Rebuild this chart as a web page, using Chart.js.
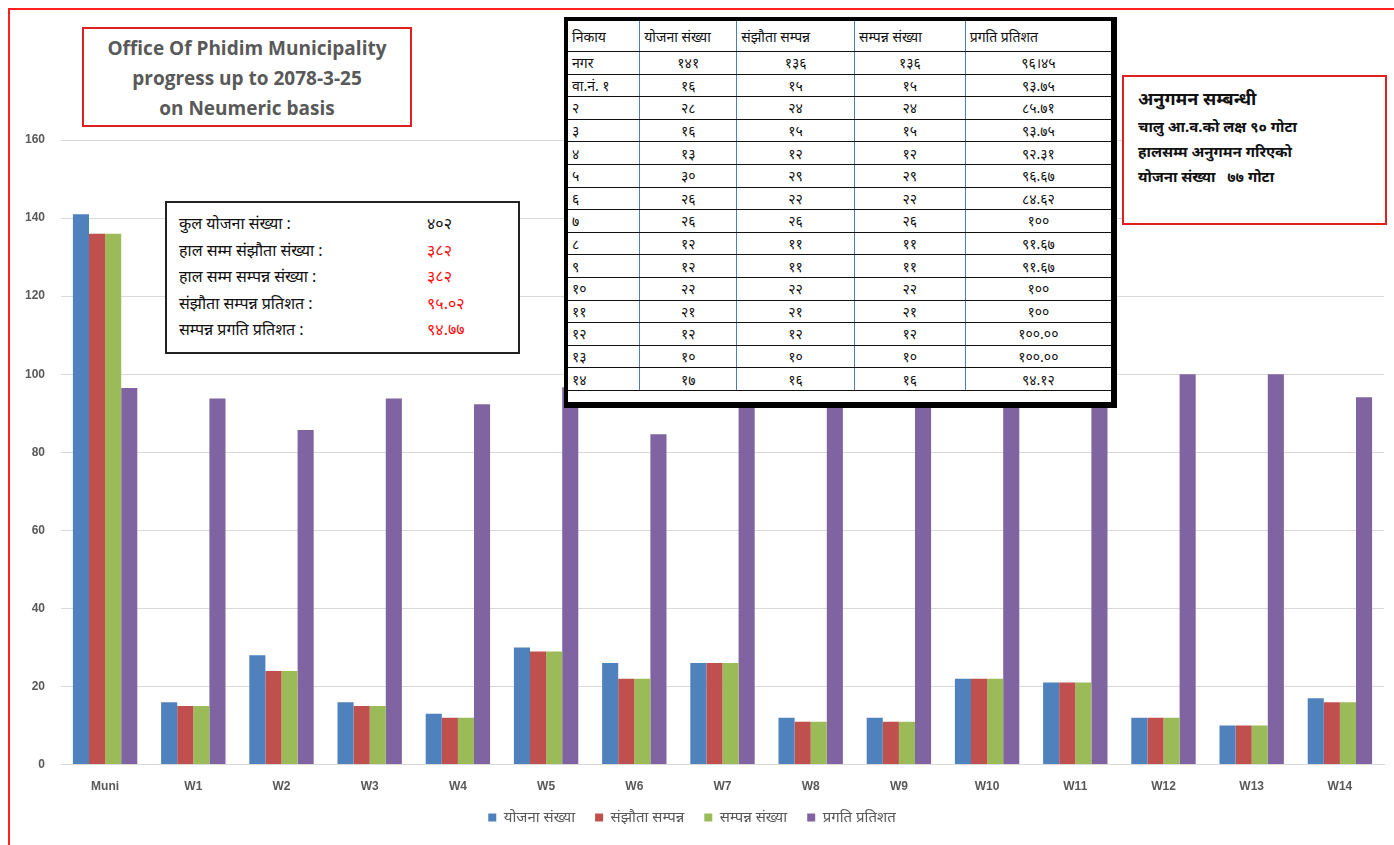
<!DOCTYPE html>
<html><head><meta charset="utf-8">
<script src="https://cdn.jsdelivr.net/npm/chart.js@4.4.1/dist/chart.umd.min.js"></script>
<style>
html,body{margin:0;padding:0;background:#fff;width:1394px;height:845px;overflow:hidden;font-family:"Noto Sans","Noto Sans Devanagari","Liberation Sans",sans-serif;}
#wrap{position:absolute;left:0;top:0;width:1394px;height:845px;}
#frame{position:absolute;left:8px;top:8px;width:1400px;height:900px;border:2px solid #ff2020;box-sizing:border-box;}
.box{position:absolute;background:#fff;box-sizing:border-box;}
#title{left:82px;top:27px;width:330px;height:100px;border:2px solid #e02020;color:#595959;font-family:"Open Sans","Liberation Sans",sans-serif;font-weight:bold;font-size:19px;line-height:30px;text-align:center;padding-top:4px;}
#left{left:165px;top:201px;width:355px;height:153px;border:2px solid #222;padding:7px 0 0 12px;font-size:16px;line-height:26.5px;color:#111;}
#left .r{display:flex;}
#left .k{width:248px;}
#left .v{color:#ff1010;}
#left .v.b{color:#111;}
#tbl{left:564px;top:17px;width:553px;height:391px;border:4px solid #000;border-right-width:6px;border-bottom-width:6px;}
#tbl table{border-collapse:collapse;width:100%;font-size:14px;color:#111;}
#tbl td{border-bottom:1.5px solid #111;height:21.6px;padding:0 4px;white-space:nowrap;}
#tbl tr:first-child td{height:30px;}
#tbl td+td{border-left:1.5px solid #4a7cc0;}
#right{left:1122px;top:75px;width:265px;height:150px;border:2px solid #e02020;padding:9px 0 0 14px;font-size:15px;line-height:25px;color:#111;font-weight:bold;}
</style></head>
<body><div id="wrap">
<canvas id="c" width="1394" height="845"></canvas>
<div id="frame"></div>
<div class="box" id="title">Office Of Phidim Municipality<br>progress up to 2078-3-25<br>on Neumeric basis</div>
<div class="box" id="left"></div>
<div class="box" id="tbl"><table id="t"></table></div>
<div class="box" id="right"></div>
</div>
<script>
const categories = ["Muni","W1","W2","W3","W4","W5","W6","W7","W8","W9","W10","W11","W12","W13","W14"];
const seriesNames = ["योजना संख्या","संझौता सम्पन्न","सम्पन्न संख्या","प्रगति प्रतिशत"];
const plans      = [141,16,28,16,13,30,26,26,12,12,22,21,12,10,17];
const contracted = [136,15,24,15,12,29,22,26,11,11,22,21,12,10,16];
const completed  = [136,15,24,15,12,29,22,26,11,11,22,21,12,10,16];
const progress   = [96.45,93.75,85.71,93.75,92.31,96.67,84.62,100,91.67,91.67,100,100,100,100,94.12];
const colors = ["#4F81BD","#C0504D","#9BBB59","#8064A2"];
const yTicks = [0,20,40,60,80,100,120,140,160];

const tableHeader = ["निकाय","योजना संख्या","संझौता सम्पन्न","सम्पन्न संख्या","प्रगति प्रतिशत"];
const tableRows = [
 ["नगर","१४१","१३६","१३६","९६।४५"],
 ["वा.नं. १","१६","१५","१५","९३.७५"],
 ["२","२८","२४","२४","८५.७१"],
 ["३","१६","१५","१५","९३.७५"],
 ["४","१३","१२","१२","९२.३१"],
 ["५","३०","२९","२९","९६.६७"],
 ["६","२६","२२","२२","८४.६२"],
 ["७","२६","२६","२६","१००"],
 ["८","१२","११","११","९१.६७"],
 ["९","१२","११","११","९१.६७"],
 ["१०","२२","२२","२२","१००"],
 ["११","२१","२१","२१","१००"],
 ["१२","१२","१२","१२","१००.००"],
 ["१३","१०","१०","१०","१००.००"],
 ["१४","१७","१६","१६","९४.१२"]
];
const summaryKeys = ["कुल योजना संख्या :","हाल सम्म संझौता संख्या :","हाल सम्म सम्पन्न संख्या :","संझौता सम्पन्न प्रतिशत  :","सम्पन्न प्रगति प्रतिशत :"];
const summaryVals = ["४०२","३८२","३८२","९५.०२","९४.७७"];
const noteLines = ["अनुगमन सम्बन्धी","चालु आ.व.को लक्ष ९० गोटा","हालसम्म अनुगमन गरिएको","योजना संख्या &nbsp;&nbsp;७७ गोटा"];

// build overlays
const colW=[68,92,116,109,150];
let h='<tr>'+tableHeader.map((x,i)=>`<td style="width:${colW[i]}px">${x}</td>`).join('')+'</tr>';
tableRows.forEach(r=>{h+='<tr>'+r.map((x,i)=>`<td style="text-align:${i==0?'left':'center'}">${x}</td>`).join('')+'</tr>';});
document.getElementById('t').innerHTML=h;
document.getElementById('left').innerHTML=summaryKeys.map((k,i)=>`<div class="r"><div class="k">${k}</div><div class="v${i==0?' b':''}">${summaryVals[i]}</div></div>`).join('');
document.getElementById('right').innerHTML=noteLines.map((l,i)=>`<div style="${i==0?'font-size:18px;margin-bottom:3px;':''}">${l}</div>`).join('');

const data=[plans,contracted,completed,progress];
new Chart(document.getElementById('c'),{
  type:'bar',
  data:{labels:categories,datasets:data.map((d,i)=>({label:seriesNames[i],data:d,backgroundColor:colors[i],categoryPercentage:0.73,barPercentage:1.0,borderWidth:0}))},
  options:{
    responsive:false,animation:false,
    layout:{padding:{left:0,right:10,top:140,bottom:10}},
    plugins:{
      legend:{position:'bottom',labels:{boxWidth:8,boxHeight:8,color:'#595959',font:{size:15,family:'"Noto Sans","Liberation Sans",sans-serif'},padding:20}},
      tooltip:{enabled:false}
    },
    scales:{
      x:{afterFit:a=>{a.height=a.height-11;},
         grid:{display:false},border:{color:'#d9d9d9'},ticks:{color:'#595959',font:{size:12,weight:'bold',family:'"Liberation Sans",sans-serif'},padding:7}},
      y:{min:0,max:160,afterBuildTicks:a=>{a.ticks=yTicks.map(v=>({value:v}));},
         afterFit:a=>{a.width=61;},
         grid:{color:'#d9d9d9',drawTicks:false},border:{display:false},
         ticks:{color:'#595959',font:{size:12,weight:'bold',family:'"Liberation Sans",sans-serif'},padding:16}}
    }
  }
});
</script>
</body></html>
